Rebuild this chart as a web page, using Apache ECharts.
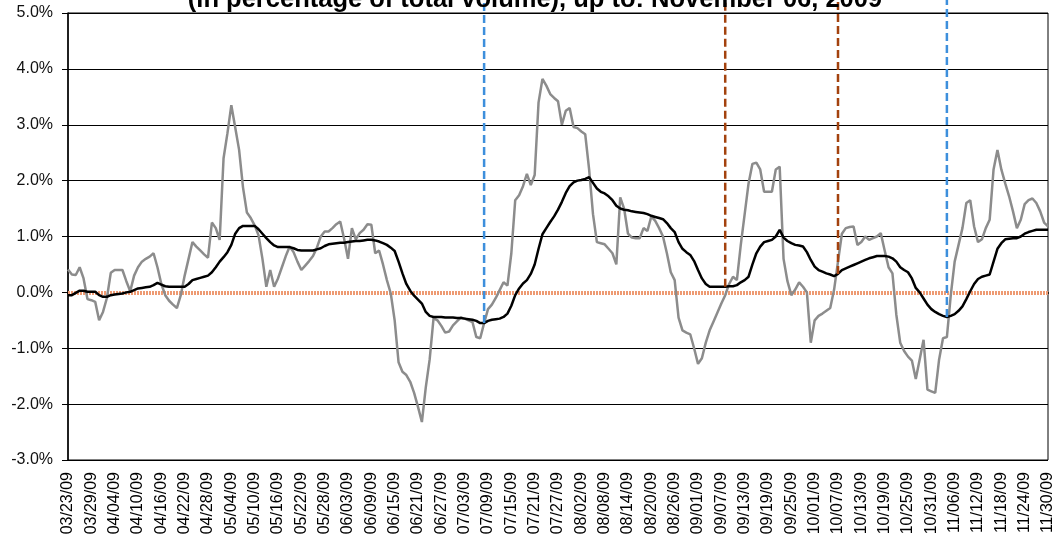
<!DOCTYPE html>
<html>
<head>
<meta charset="utf-8">
<script src="https://cdn.jsdelivr.net/npm/echarts@6/dist/echarts.min.js"></script>
<style>
  html, body { margin: 0; padding: 0; background: #ffffff; }
  #chart { width: 1056px; height: 546px; }
</style>
</head>
<body>
<div id="chart"></div>
<script>
// First calendar day of the series (one value per calendar day)
const startDay = [2009, 3, 23];

// Daily net share, % of total volume
const dailyShare = [
  0.41, 0.32, 0.31, 0.45, 0.25, -0.12, -0.14, -0.17, -0.50, -0.35,
  -0.10, 0.35, 0.40, 0.40, 0.40, 0.20, 0.02, 0.30, 0.45, 0.55,
  0.60, 0.64, 0.70, 0.45, 0.15, -0.05, -0.15, -0.22, -0.28, -0.05,
  0.30, 0.60, 0.90, 0.82, 0.75, 0.68, 0.62, 1.25, 1.15, 0.94,
  2.40, 2.85, 3.35, 2.95, 2.55, 1.88, 1.43, 1.33, 1.20, 1.02,
  0.60, 0.10, 0.40, 0.10, 0.25, 0.45, 0.65, 0.82, 0.72, 0.55,
  0.40, 0.48, 0.56, 0.65, 0.80, 1.00, 1.09, 1.09, 1.15, 1.22,
  1.27, 0.96, 0.60, 1.15, 0.95, 1.06, 1.12, 1.22, 1.21, 0.70,
  0.75, 0.50, 0.22, -0.02, -0.50, -1.25, -1.42, -1.48, -1.60, -1.80,
  -2.05, -2.32, -1.70, -1.20, -0.46, -0.50, -0.60, -0.72, -0.70, -0.59,
  -0.52, -0.45, -0.47, -0.50, -0.53, -0.80, -0.82, -0.55, -0.30, -0.22,
  -0.10, 0.04, 0.18, 0.12, 0.70, 1.65, 1.74, 1.90, 2.12, 1.92,
  2.10, 3.40, 3.82, 3.70, 3.55, 3.48, 3.42, 3.00, 3.25, 3.30,
  2.96, 2.94, 2.88, 2.83, 2.20, 1.40, 0.90, 0.88, 0.86, 0.78,
  0.70, 0.50, 1.70, 1.50, 1.05, 0.98, 0.97, 0.97, 1.15, 1.10,
  1.36, 1.28, 1.15, 1.00, 0.70, 0.36, 0.22, -0.45, -0.68, -0.72,
  -0.75, -1.00, -1.28, -1.18, -0.90, -0.68, -0.52, -0.36, -0.20, -0.05,
  0.15, 0.28, 0.22, 0.85, 1.40, 1.95, 2.30, 2.32, 2.20, 1.80,
  1.80, 1.80, 2.20, 2.25, 0.60, 0.20, -0.05, 0.05, 0.18, 0.10,
  0.00, -0.90, -0.50, -0.42, -0.38, -0.33, -0.28, 0.05, 0.55, 1.05,
  1.15, 1.17, 1.18, 0.85, 0.90, 1.00, 0.94, 0.97, 1.00, 1.06,
  0.75, 0.45, 0.34, -0.40, -0.90, -1.05, -1.15, -1.22, -1.55, -1.20,
  -0.85, -1.74, -1.77, -1.80, -1.20, -0.82, -0.80, -0.05, 0.55, 0.85,
  1.15, 1.60, 1.65, 1.18, 0.90, 0.95, 1.15, 1.30, 2.20, 2.55,
  2.20, 1.95, 1.72, 1.45, 1.15, 1.30, 1.58, 1.65, 1.68, 1.60,
  1.45, 1.25, 1.18
];

// Smoothed (moving-average) net share, % of total volume
const smoothedShare = [
  -0.05, -0.05, -0.01, 0.03, 0.03, 0.01, 0.01, 0.01, -0.05, -0.08,
  -0.08, -0.05, -0.04, -0.03, -0.02, 0.00, 0.01, 0.04, 0.07, 0.08,
  0.09, 0.10, 0.13, 0.17, 0.14, 0.11, 0.10, 0.10, 0.10, 0.10,
  0.10, 0.15, 0.22, 0.24, 0.26, 0.28, 0.30, 0.36, 0.45, 0.55,
  0.63, 0.72, 0.85, 1.05, 1.15, 1.19, 1.19, 1.19, 1.19, 1.13,
  1.05, 0.97, 0.90, 0.84, 0.81, 0.81, 0.81, 0.81, 0.79, 0.76,
  0.75, 0.75, 0.75, 0.75, 0.77, 0.79, 0.83, 0.86, 0.87, 0.88,
  0.89, 0.89, 0.90, 0.91, 0.92, 0.92, 0.93, 0.94, 0.94, 0.93,
  0.91, 0.88, 0.85, 0.80, 0.74, 0.55, 0.34, 0.15, 0.03, -0.06,
  -0.13, -0.20, -0.35, -0.42, -0.44, -0.44, -0.44, -0.45, -0.45, -0.45,
  -0.46, -0.46, -0.47, -0.48, -0.49, -0.51, -0.55, -0.55, -0.51, -0.49,
  -0.48, -0.47, -0.44, -0.38, -0.24, -0.05, 0.07, 0.16, 0.22, 0.33,
  0.50, 0.78, 1.04, 1.15, 1.26, 1.36, 1.48, 1.62, 1.78, 1.90,
  1.97, 2.00, 2.01, 2.03, 2.06, 1.96, 1.86, 1.80, 1.77, 1.72,
  1.65, 1.55, 1.50, 1.48, 1.47, 1.45, 1.44, 1.43, 1.42, 1.40,
  1.37, 1.35, 1.33, 1.31, 1.24, 1.15, 1.08, 0.90, 0.78, 0.72,
  0.67, 0.56, 0.40, 0.25, 0.15, 0.10, 0.10, 0.10, 0.10, 0.10,
  0.11, 0.11, 0.13, 0.18, 0.22, 0.28, 0.50, 0.70, 0.82, 0.90,
  0.92, 0.94, 1.00, 1.12, 0.98, 0.92, 0.88, 0.85, 0.84, 0.82,
  0.72, 0.58, 0.46, 0.40, 0.37, 0.34, 0.32, 0.29, 0.33, 0.40,
  0.43, 0.46, 0.49, 0.52, 0.55, 0.58, 0.61, 0.63, 0.65, 0.65,
  0.65, 0.64, 0.61, 0.55, 0.45, 0.40, 0.36, 0.25, 0.08, 0.00,
  -0.11, -0.22, -0.30, -0.35, -0.39, -0.42, -0.44, -0.42, -0.39, -0.33,
  -0.25, -0.12, 0.02, 0.15, 0.24, 0.28, 0.30, 0.32, 0.55, 0.78,
  0.88, 0.95, 0.96, 0.97, 0.97, 1.00, 1.05, 1.08, 1.10, 1.12,
  1.12, 1.12, 1.12
];

// Marked event days and their drop-line colours
const eventDates  = ['07/08/09', '09/08/09', '10/07/09', '11/04/09'];
const eventColors = ['#3d8fdc', '#a3420e', '#a3420e', '#3d8fdc'];

// Value axis range and step (percent)
const yMin = -3, yMax = 5, yStep = 1;

const titleText = '(in percentage of total volume), up to: November 06, 2009';

// Category labels, one per calendar day: mm/dd/yy
const pad = n => (n < 10 ? '0' : '') + n;
const dates = dailyShare.map((_, i) => {
  const d = new Date(startDay[0], startDay[1] - 1, startDay[2] + i);
  return pad(d.getMonth() + 1) + '/' + pad(d.getDate()) + '/' + String(d.getFullYear()).slice(2);
});

const FONT = '"Liberation Sans", Arial, sans-serif';
const lineTop = 5.3; // drop lines run up past the top of the plot

const eventSeries = eventDates.map((day, k) => {
  const idx = dates.indexOf(day);
  return {
    type: 'line',
    data: [[idx, smoothedShare[idx]], [idx, lineTop]],
    symbol: 'none',
    clip: false,
    silent: true,
    z: 4,
    lineStyle: { color: eventColors[k], width: 2.5, type: [8, 4] }
  };
});

const chart = echarts.init(document.getElementById('chart'), null, { renderer: 'canvas' });

chart.setOption({
  animation: false,
  backgroundColor: '#ffffff',
  textStyle: { fontFamily: FONT },
  graphic: [{
    type: 'text',
    x: 535,
    y: -0.5,
    z: 10,
    style: {
      text: titleText,
      fill: '#000',
      font: 'bold 25.5px ' + FONT,
      align: 'center',
      verticalAlign: 'middle'
    }
  }],
  grid: {
    left: 68, right: 8, top: 13, bottom: 86,
    show: true, borderColor: '#000', borderWidth: 1
  },
  xAxis: {
    type: 'category',
    data: dates,
    boundaryGap: false,
    axisLine: { lineStyle: { color: '#000', width: 2 } },
    axisTick: { show: false },
    splitLine: { show: false },
    axisLabel: {
      interval: 5,
      rotate: 90,
      margin: 12,
      color: '#000',
      fontSize: 16,
      fontFamily: FONT
    }
  },
  yAxis: {
    type: 'value',
    min: yMin, max: yMax, interval: yStep,
    axisLine: { show: true, lineStyle: { color: '#000', width: 1.5 } },
    axisTick: { show: true, inside: false, length: 6, lineStyle: { color: '#000' } },
    splitLine: { show: true, lineStyle: { color: '#000', width: 1 } },
    axisLabel: {
      margin: 15,
      color: '#111',
      fontSize: 16,
      fontFamily: FONT,
      formatter: v => v.toFixed(1) + '%'
    }
  },
  series: [
    {
      name: 'Daily',
      type: 'line',
      data: dailyShare,
      symbol: 'none',
      z: 2,
      lineStyle: { color: '#8c8c8c', width: 2.5 },
      markLine: {
        silent: true,
        symbol: ['none', 'none'],
        z: 1,
        label: { show: false },
        emphasis: { disabled: true },
        data: [
          // white underlay so the zero gridline does not show between the dots
          { yAxis: 0, lineStyle: { color: '#ffffff', width: 4, type: 'solid', opacity: 1 } },
          { yAxis: 0, lineStyle: { color: '#ee9a72', width: 4, type: [2, 1], opacity: 1 } }
        ]
      }
    },
    {
      name: 'Smoothed',
      type: 'line',
      data: smoothedShare,
      symbol: 'none',
      z: 3,
      lineStyle: { color: '#000000', width: 2.5 }
    }
  ].concat(eventSeries)
});
</script>
</body>
</html>
